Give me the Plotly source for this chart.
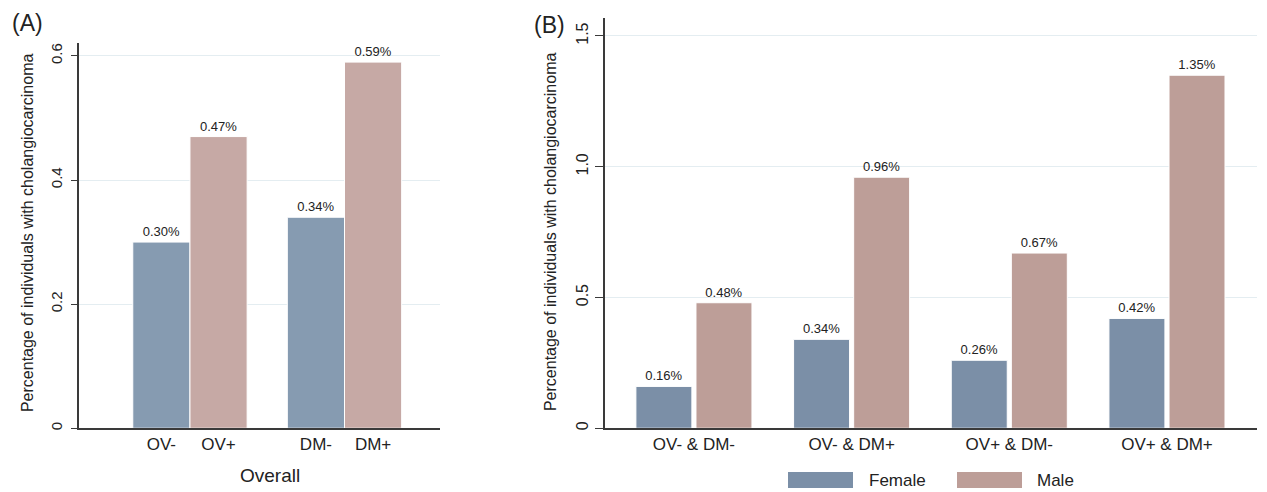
import plotly.graph_objects as go

# ---------------- data ----------------
a_groups = ["OV", "DM"]
a_neg_labels = ["OV-", "DM-"]
a_pos_labels = ["OV+", "DM+"]
a_neg_values = [0.30, 0.34]
a_pos_values = [0.47, 0.59]

b_categories = ["OV- & DM-", "OV- & DM+", "OV+ & DM-", "OV+ & DM+"]
b_female = [0.16, 0.34, 0.26, 0.42]
b_male = [0.48, 0.96, 0.67, 1.35]
series_names = ["Female", "Male"]

a_yticks = [0, 0.2, 0.4, 0.6]
a_yticktext = ["0", "0.2", "0.4", "0.6"]
b_yticks = [0, 0.5, 1.0, 1.5]
b_yticktext = ["0", "0.5", "1.0", "1.5"]

ytitle = "Percentage of individuals with cholangiocarcinoma"

# ---------------- style ----------------
FONT = "Liberation Sans, Arial, sans-serif"
A_BLUE, A_PINK = "#869bb1", "#c6a9a5"
B_BLUE, B_PINK = "#7b8fa7", "#bd9e98"
GRID = "#e4edf1"
AXIS = "#3a3a3a"
OFF = 8  # page body margin
W = 1267 - OFF
H = 492 - OFF


def px(x):
    return (x - OFF) / W


def py(y):
    return 1 - (y - OFF) / H


fig = go.Figure()

# Panel A
wa = 0.37
xa = list(range(len(a_groups)))
fig.add_trace(go.Bar(
    x=xa, y=a_neg_values, width=wa, offset=-wa,
    marker=dict(color=A_BLUE, line=dict(color="white", width=1)),
    text=[f"{v:.2f}%" for v in a_neg_values], textposition="outside",
    textfont=dict(size=13, color="#222", family=FONT), cliponaxis=False,
    xaxis="x", yaxis="y", showlegend=False))
fig.add_trace(go.Bar(
    x=xa, y=a_pos_values, width=wa, offset=0,
    marker=dict(color=A_PINK, line=dict(color="white", width=1)),
    text=[f"{v:.2f}%" for v in a_pos_values], textposition="outside",
    textfont=dict(size=13, color="#222", family=FONT), cliponaxis=False,
    xaxis="x", yaxis="y", showlegend=False))

a_tickvals = []
a_ticktext = []
for i in xa:
    a_tickvals += [i - wa / 2, i + wa / 2]
    a_ticktext += [a_neg_labels[i], a_pos_labels[i]]

# Panel B
wb = 0.355
xb = list(range(len(b_categories)))
fig.add_trace(go.Bar(
    x=xb, y=b_female, width=wb, offset=-0.368, name=series_names[0],
    marker=dict(color=B_BLUE, line=dict(color="white", width=1)),
    text=[f"{v:.2f}%" for v in b_female], textposition="outside",
    textfont=dict(size=13, color="#222", family=FONT), cliponaxis=False,
    xaxis="x2", yaxis="y2", showlegend=False))
fig.add_trace(go.Bar(
    x=xb, y=b_male, width=wb, offset=0.013, name=series_names[1],
    marker=dict(color=B_PINK, line=dict(color="white", width=1)),
    text=[f"{v:.2f}%" for v in b_male], textposition="outside",
    textfont=dict(size=13, color="#222", family=FONT), cliponaxis=False,
    xaxis="x2", yaxis="y2", showlegend=False))

axis_common = dict(showline=True, linecolor=AXIS, linewidth=1.5, zeroline=False)

fig.update_layout(
    width=W, height=H,
    margin=dict(l=0, r=0, t=0, b=0),
    paper_bgcolor="white", plot_bgcolor="white",
    font=dict(family=FONT, color="#222"),
    xaxis=dict(domain=[px(79), px(440)], range=[-0.718, 1.618],
               tickmode="array", tickvals=a_tickvals, ticktext=a_ticktext,
               showgrid=False, ticks="", tickfont=dict(size=17), anchor="y",
               **axis_common),
    yaxis=dict(domain=[py(430), py(43)], range=[0, 0.621],
               tickmode="array", tickvals=a_yticks, ticktext=a_yticktext,
               tickangle=-90, ticks="outside", ticklen=6, tickcolor=AXIS,
               tickwidth=1.2, ticklabelstandoff=3,
               showgrid=True, gridcolor=GRID, gridwidth=1,
               tickfont=dict(size=15), anchor="x", **axis_common),
    xaxis2=dict(domain=[px(605), px(1257)], range=[-0.564, 3.571],
                tickmode="array", tickvals=xb, ticktext=b_categories,
                showgrid=False, ticks="", tickfont=dict(size=17), anchor="y2",
                **axis_common),
    yaxis2=dict(domain=[py(430), py(18)], range=[0, 1.569],
                tickmode="array", tickvals=b_yticks, ticktext=b_yticktext,
                tickangle=-90, ticks="outside", ticklen=8, tickcolor=AXIS,
                tickwidth=1.2, ticklabelstandoff=1,
                showgrid=True, gridcolor=GRID, gridwidth=1,
                tickfont=dict(size=16), anchor="x2", **axis_common),
)

ann = [
    dict(text="(A)", x=px(27), y=py(23), font=dict(size=23)),
    dict(text="(B)", x=px(549), y=py(25), font=dict(size=23)),
    dict(text=ytitle, x=px(27), y=py(234), textangle=-90, font=dict(size=16)),
    dict(text=ytitle, x=px(550), y=py(233), textangle=-90, font=dict(size=16)),
    dict(text="Overall", x=px(270), y=py(477), font=dict(size=19)),
    dict(text=series_names[0], x=px(867), y=py(482), xanchor="left", font=dict(size=17)),
    dict(text=series_names[1], x=px(1035), y=py(482), xanchor="left", font=dict(size=17)),
]
for a in ann:
    a.setdefault("xanchor", "center")
    fig.add_annotation(xref="paper", yref="paper", showarrow=False, yanchor="middle", **a)

fig.add_shape(type="rect", xref="paper", yref="paper",
              x0=px(788), x1=px(853), y0=py(490), y1=py(474),
              fillcolor=B_BLUE, line=dict(width=0))
fig.add_shape(type="rect", xref="paper", yref="paper",
              x0=px(957), x1=px(1022), y0=py(490), y1=py(474),
              fillcolor=B_PINK, line=dict(width=0))

fig.write_html("out.html")
